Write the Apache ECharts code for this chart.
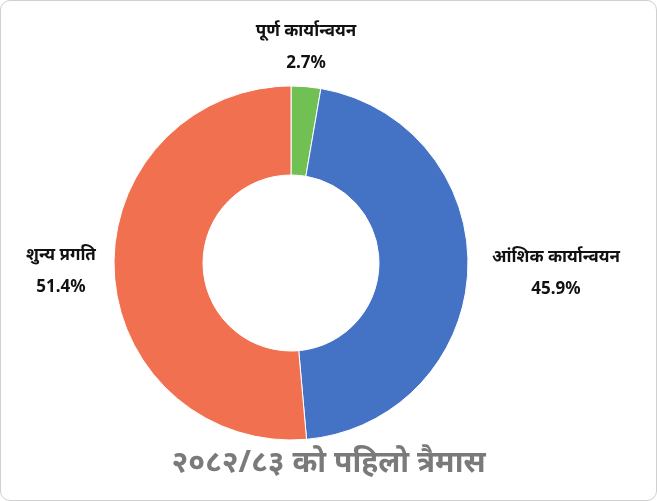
<!DOCTYPE html><html><head><meta charset="utf-8">
<script src="https://cdn.jsdelivr.net/npm/echarts@6/dist/echarts.min.js"></script>
<style>html,body{margin:0;padding:0;background:#fff}#c{width:657px;height:501px;box-sizing:border-box;border:1px solid #d0d0d0;border-radius:10px}</style>
</head><body><div id="c"></div><script>
const categories=['पूर्ण कार्यान्वयन','आंशिक कार्यान्वयन','शुन्य प्रगति'];
const values=[2.7,45.9,51.4];
const colors=['#70c054','#4472c4','#f07050'];
const title='२०८२/८३ को पहिलो त्रैमास';
const chart=echarts.init(document.getElementById('c'));
const labelPos=[[305,46],[555,272],[60,270]];
chart.setOption({
 title:{text:title,left:'center',top:442,textStyle:{fontSize:30,color:'#7a7a7a',fontWeight:'bold',fontFamily:'Noto Sans, sans-serif'}},
 series:[{type:'pie',center:[290,262],radius:[88,177],startAngle:90,clockwise:true,
  data:categories.map((n,i)=>({name:n,value:values[i],itemStyle:{color:colors[i]}})),
  itemStyle:{borderColor:'#fff',borderWidth:1},
  label:{show:true,position:'outside',formatter:p=>p.name+'\n'+p.value.toFixed(1)+'%',fontSize:17,fontWeight:'bold',color:'#111',lineHeight:32,align:'center',fontFamily:'Noto Sans, sans-serif'},
  labelLine:{show:false,length:18,length2:0},
  labelLayout:function(p){const q=labelPos[p.dataIndex];return{x:q[0],y:q[1],align:'center',verticalAlign:'middle'};}
 }]
});
</script></body></html>
